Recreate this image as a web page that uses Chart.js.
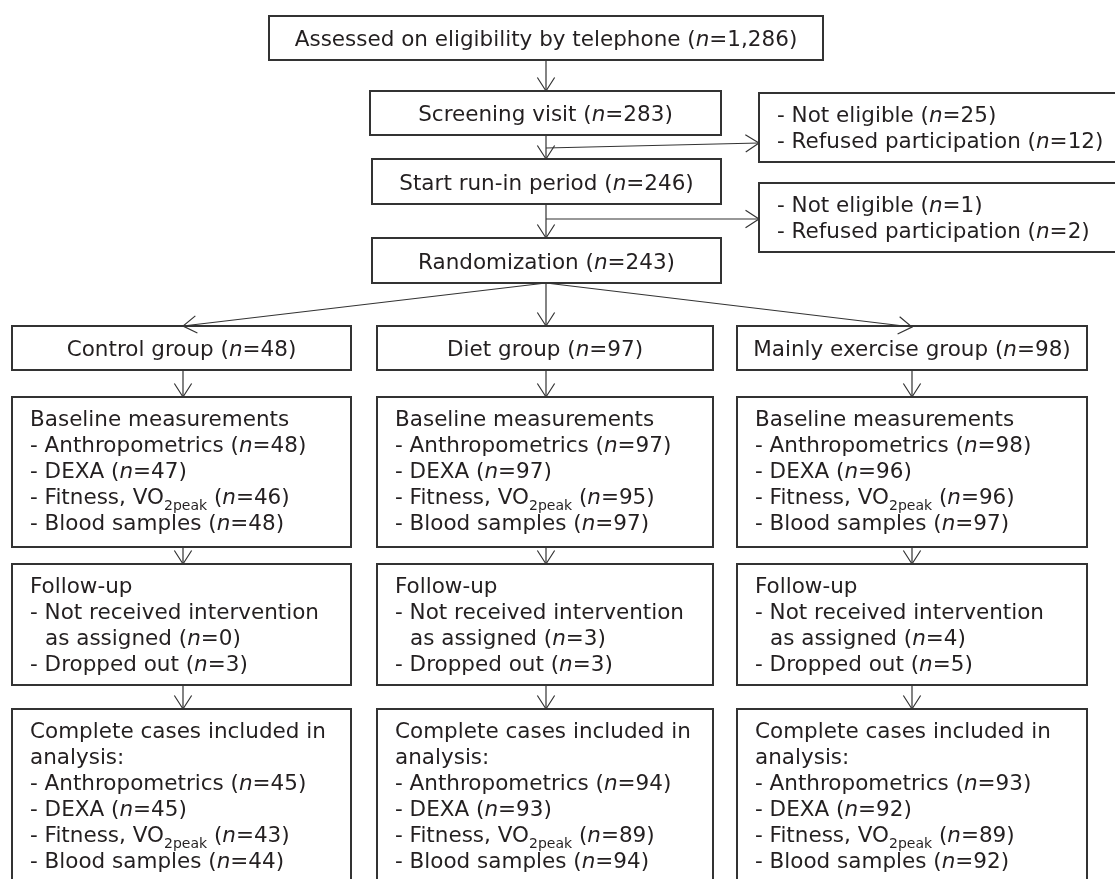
<!DOCTYPE html>
<html>
<head>
<meta charset="utf-8">
<script src="https://cdn.jsdelivr.net/npm/chart.js@4"></script>
<style>
  html, body { margin: 0; padding: 0; background: #fff; }
  #flow { display: block; }
</style>
</head>
<body>
<canvas id="flow" width="1115" height="879"></canvas>
<script>
// ---- data ----
const flowSteps = ['Assessed on eligibility by telephone', 'Screening visit', 'Start run-in period', 'Randomization'];
const flowN = ['1,286', '283', '246', '243'];
const exclusionLabels = ['Not eligible', 'Refused participation'];
const exclusionScreening = [25, 12];
const exclusionRunIn = [1, 2];
const groups = ['Control group', 'Diet group', 'Mainly exercise group'];
const groupN = [48, 97, 98];
const measures = ['Anthropometrics', 'DEXA', 'Fitness, VO_{2peak}', 'Blood samples'];
const baselineControl = [48, 47, 46, 48];
const baselineDiet = [97, 97, 95, 97];
const baselineExercise = [98, 96, 96, 97];
const notReceived = [0, 3, 4];
const droppedOut = [3, 3, 5];
const completeControl = [45, 45, 43, 44];
const completeDiet = [94, 93, 89, 94];
const completeExercise = [93, 92, 89, 92];

const baselineN = [baselineControl, baselineDiet, baselineExercise];
const completeN = [completeControl, completeDiet, completeExercise];

// ---- layout (in axis units, 1 unit = 1 px of the 1115x879 figure) ----
const cols = [[12, 351], [377, 713], [737, 1087]];
const colMid = [183, 546, 912];
const stem = 546;
const rows = { group: [326, 370], base: [397, 547], follow: [564, 685], done: [709, 900] };

const lab = (s, n) => s + ' (*n*=' + n + ')';

const boxes = [];
flowSteps.forEach((s, i) => {
  const geo = [[269, 16, 823, 60], [370, 91, 721, 135], [372, 159, 721, 204], [372, 238, 721, 283]][i];
  boxes.push({ r: geo, center: true, lines: [lab(s, flowN[i])] });
});
boxes.push({ r: [759, 93, 1125, 162], indent: 18, lines: exclusionLabels.map((l, i) => lab('- ' + l, exclusionScreening[i])) });
boxes.push({ r: [759, 183, 1125, 252], indent: 18, lines: exclusionLabels.map((l, i) => lab('- ' + l, exclusionRunIn[i])) });
groups.forEach((g, c) => {
  const [x0, x1] = cols[c];
  boxes.push({ r: [x0, rows.group[0], x1, rows.group[1]], center: true, lines: [lab(g, groupN[c])] });
  boxes.push({ r: [x0, rows.base[0], x1, rows.base[1]], indent: 18,
    lines: ['Baseline measurements'].concat(measures.map((m, k) => lab('- ' + m, baselineN[c][k]))) });
  boxes.push({ r: [x0, rows.follow[0], x1, rows.follow[1]], indent: 18,
    lines: ['Follow-up', '- Not received intervention', '>as assigned (*n*=' + notReceived[c] + ')', lab('- Dropped out', droppedOut[c])] });
  boxes.push({ r: [x0, rows.done[0], x1, rows.done[1]], indent: 18,
    lines: ['Complete cases included in', 'analysis:'].concat(measures.map((m, k) => lab('- ' + m, completeN[c][k]))) });
});

const arrows = [
  [[stem, 60], [stem, 91]],
  [[stem, 135], [stem, 159]],
  [[stem, 204], [stem, 238]],
  [[stem, 148], [759, 143]],
  [[stem, 219], [759, 219]],
  [[stem, 283], [colMid[0], 326]],
  [[stem, 283], [colMid[1], 326]],
  [[stem, 283], [colMid[2], 327]]
];
colMid.forEach(x => {
  arrows.push([[x, 370], [x, 397]]);
  arrows.push([[x, 547], [x, 564]]);
  arrows.push([[x, 685], [x, 709]]);
});

const INK = '#231f20';
const LINE = '#333';
const FONT = '"DejaVu Sans", Verdana, sans-serif';
const SIZE = 21.5;

function segs(str) {
  return str.split(/(\*[^*]+\*|_\{[^}]+\})/).filter(Boolean).map(t => {
    if (t[0] === '*') return { t: t.slice(1, -1), f: 'italic ' + SIZE + 'px ' + FONT, dy: 0 };
    if (t[0] === '_') return { t: t.slice(2, -1), f: '14px ' + FONT, dy: 6 };
    return { t: t, f: SIZE + 'px ' + FONT, dy: 0 };
  });
}
function drawRich(ctx, str, x, y, center) {
  let indent = 0;
  if (str[0] === '>') { indent = 15; str = str.slice(1); }
  const parts = segs(str);
  let w = 0;
  parts.forEach(p => { ctx.font = p.f; p.w = ctx.measureText(p.t).width; w += p.w; });
  let cx = center ? x - w / 2 : x + indent;
  parts.forEach(p => { ctx.font = p.f; ctx.fillText(p.t, cx, y + p.dy); cx += p.w; });
}

const flowPlugin = {
  id: 'flowBoxes',
  afterDatasetsDraw(chart) {
    const ctx = chart.ctx, xs = chart.scales.x, ys = chart.scales.y;
    ctx.save();
    // arrow heads
    ctx.strokeStyle = LINE; ctx.lineWidth = 1.2;
    chart.data.datasets.forEach(ds => {
      const a = ds.data[0], b = ds.data[1];
      const ax = xs.getPixelForValue(a.x), ay = ys.getPixelForValue(a.y);
      const bx = xs.getPixelForValue(b.x), by = ys.getPixelForValue(b.y);
      const ang = Math.atan2(by - ay, bx - ax), L = 16, spread = 0.57;
      ctx.beginPath();
      ctx.moveTo(bx - L * Math.cos(ang - spread), by - L * Math.sin(ang - spread));
      ctx.lineTo(bx, by);
      ctx.lineTo(bx - L * Math.cos(ang + spread), by - L * Math.sin(ang + spread));
      ctx.stroke();
    });
    // boxes + text
    boxes.forEach(bx => {
      const x0 = xs.getPixelForValue(bx.r[0]), y0 = ys.getPixelForValue(bx.r[1]);
      const x1 = xs.getPixelForValue(bx.r[2]), y1 = ys.getPixelForValue(bx.r[3]);
      ctx.strokeStyle = LINE; ctx.lineWidth = 2;
      ctx.strokeRect(x0, y0, x1 - x0, y1 - y0);
      ctx.fillStyle = INK; ctx.textBaseline = 'alphabetic'; ctx.textAlign = 'left';
      if (bx.center) {
        drawRich(ctx, bx.lines[0], (x0 + x1) / 2, (y0 + y1) / 2 + 8, true);
      } else {
        bx.lines.forEach((l, i) => drawRich(ctx, l, x0 + bx.indent, y0 + 29 + i * 26, false));
      }
    });
    ctx.restore();
  }
};

new Chart(document.getElementById('flow'), {
  type: 'scatter',
  data: {
    datasets: arrows.map(a => ({
      data: [{ x: a[0][0], y: a[0][1] }, { x: a[1][0], y: a[1][1] }],
      showLine: true,
      borderColor: LINE,
      borderWidth: 1.2,
      pointRadius: 0
    }))
  },
  options: {
    responsive: false,
    animation: false,
    layout: { padding: 0 },
    plugins: { legend: { display: false }, tooltip: { enabled: false } },
    scales: {
      x: { type: 'linear', min: 0, max: 1115, display: false },
      y: { type: 'linear', min: 0, max: 879, reverse: true, display: false }
    }
  },
  plugins: [flowPlugin]
});
</script>
</body>
</html>
